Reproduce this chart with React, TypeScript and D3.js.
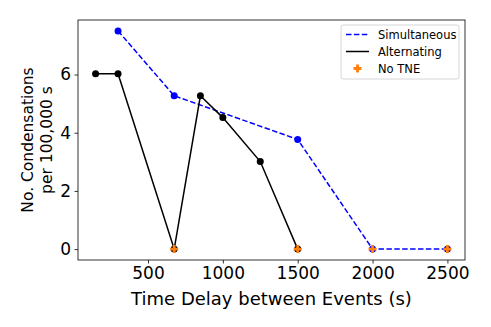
import * as d3 from "d3";
import React, { useRef, useEffect } from "react";

const simX = [300, 675, 1500, 2000, 2500];
const simY = [7.5, 5.27, 3.77, 0, 0];
const altX = [150, 300, 675, 850, 1000, 1250, 1500];
const altY = [6.03, 6.03, 0, 5.27, 4.52, 3.01, 0];
const noTneX = [675, 1500, 2000, 2500];
const noTneY = [0, 0, 0, 0];
const xTicks = [500, 1000, 1500, 2000, 2500];
const yTicks = [0, 2, 4, 6];

const W = 491;
const H = 327;
const m = { left: 78, right: 465, top: 20, bottom: 260 };
const font = "DejaVu Sans, sans-serif";

function Chart() {
  const ref = useRef(null);

  useEffect(() => {
    const svg = d3.select(ref.current);
    svg.selectAll("*").remove();

    const x = d3.scaleLinear().domain([32.5, 2617.5]).range([m.left, m.right]);
    const y = d3.scaleLinear().domain([-0.375, 7.875]).range([m.bottom, m.top]);

    svg.append("rect").attr("width", W).attr("height", H).attr("fill", "white");

    // axes
    const xAxis = svg
      .append("g")
      .attr("transform", `translate(0,${m.bottom})`)
      .call(d3.axisBottom(x).tickValues(xTicks).tickSize(3.5).tickPadding(3.5).tickFormat(d3.format("d")));
    const yAxis = svg
      .append("g")
      .attr("transform", `translate(${m.left},0)`)
      .call(d3.axisLeft(y).tickValues(yTicks).tickSize(3.5).tickPadding(3.5));
    [xAxis, yAxis].forEach((a) => {
      a.select(".domain").remove();
      a.selectAll("line").attr("stroke", "#000").attr("stroke-width", 0.8);
      a.selectAll("text").attr("font-family", font).attr("font-size", 17).attr("fill", "#000");
    });

    svg
      .append("rect")
      .attr("x", m.left)
      .attr("y", m.top)
      .attr("width", m.right - m.left)
      .attr("height", m.bottom - m.top)
      .attr("fill", "none")
      .attr("stroke", "#000")
      .attr("stroke-width", 0.8);

    const line = d3
      .line<[number, number]>()
      .x((d) => x(d[0]))
      .y((d) => y(d[1]));

    const sim = simX.map((v, i) => [v, simY[i]] as [number, number]);
    const alt = altX.map((v, i) => [v, altY[i]] as [number, number]);

    svg
      .append("path")
      .attr("d", line(sim))
      .attr("fill", "none")
      .attr("stroke", "blue")
      .attr("stroke-width", 1.5)
      .attr("stroke-dasharray", "5.5,2.4");
    svg
      .selectAll(".simdot")
      .data(sim)
      .enter()
      .append("circle")
      .attr("cx", (d) => x(d[0]))
      .attr("cy", (d) => y(d[1]))
      .attr("r", 3.5)
      .attr("fill", "blue");

    svg
      .append("path")
      .attr("d", line(alt))
      .attr("fill", "none")
      .attr("stroke", "black")
      .attr("stroke-width", 1.5);
    svg
      .selectAll(".altdot")
      .data(alt)
      .enter()
      .append("circle")
      .attr("cx", (d) => x(d[0]))
      .attr("cy", (d) => y(d[1]))
      .attr("r", 3.5)
      .attr("fill", "black");

    const plus = "M-1.4,-4H1.4V-1.4H4V1.4H1.4V4H-1.4V1.4H-4V-1.4H-1.4Z";
    svg
      .selectAll(".tne")
      .data(noTneX.map((v, i) => [v, noTneY[i]]))
      .enter()
      .append("path")
      .attr("d", plus)
      .attr("transform", (d) => `translate(${x(d[0])},${y(d[1])})`)
      .attr("fill", "#ff7f0e");

    // axis labels
    svg
      .append("text")
      .attr("x", (m.left + m.right) / 2)
      .attr("y", 305)
      .attr("text-anchor", "middle")
      .attr("font-family", font)
      .attr("font-size", 18)
      .text("Time Delay between Events (s)");
    const yl = svg
      .append("text")
      .attr("transform", `translate(0,${(m.top + m.bottom) / 2}) rotate(-90)`)
      .attr("text-anchor", "middle")
      .attr("font-family", font)
      .attr("font-size", 15.5);
    yl.append("tspan").attr("x", 0).attr("y", 33).text("No. Condensations");
    yl.append("tspan").attr("x", 0).attr("y", 52).text("per 100,000 s");

    // legend
    const lg = svg.append("g").attr("transform", "translate(341,25)");
    lg.append("rect")
      .attr("width", 118)
      .attr("height", 54)
      .attr("rx", 2)
      .attr("fill", "white")
      .attr("stroke", "#ccc")
      .attr("stroke-width", 0.8);
    const items = ["Simultaneous", "Alternating", "No TNE"];
    items.forEach((t, i) => {
      const cy = 9.5 + i * 17;
      if (i < 2) {
        lg.append("line")
          .attr("x1", 5)
          .attr("x2", 28)
          .attr("y1", cy)
          .attr("y2", cy)
          .attr("stroke", i === 0 ? "blue" : "black")
          .attr("stroke-width", 1.5)
          .attr("stroke-dasharray", i === 0 ? "5.5,2.4" : null);
      } else {
        lg.append("path").attr("d", plus).attr("transform", `translate(16.5,${cy})`).attr("fill", "#ff7f0e");
      }
      lg.append("text")
        .attr("x", 37)
        .attr("y", cy)
        .attr("dy", "0.35em")
        .attr("font-family", font)
        .attr("font-size", 11.5)
        .text(t);
    });
  }, []);

  return <svg ref={ref} width={W} height={H} style={{ display: "block" }} />;
}

export default function App() {
  return (
    <div style={{ margin: -8 }}>
      <Chart />
    </div>
  );
}
